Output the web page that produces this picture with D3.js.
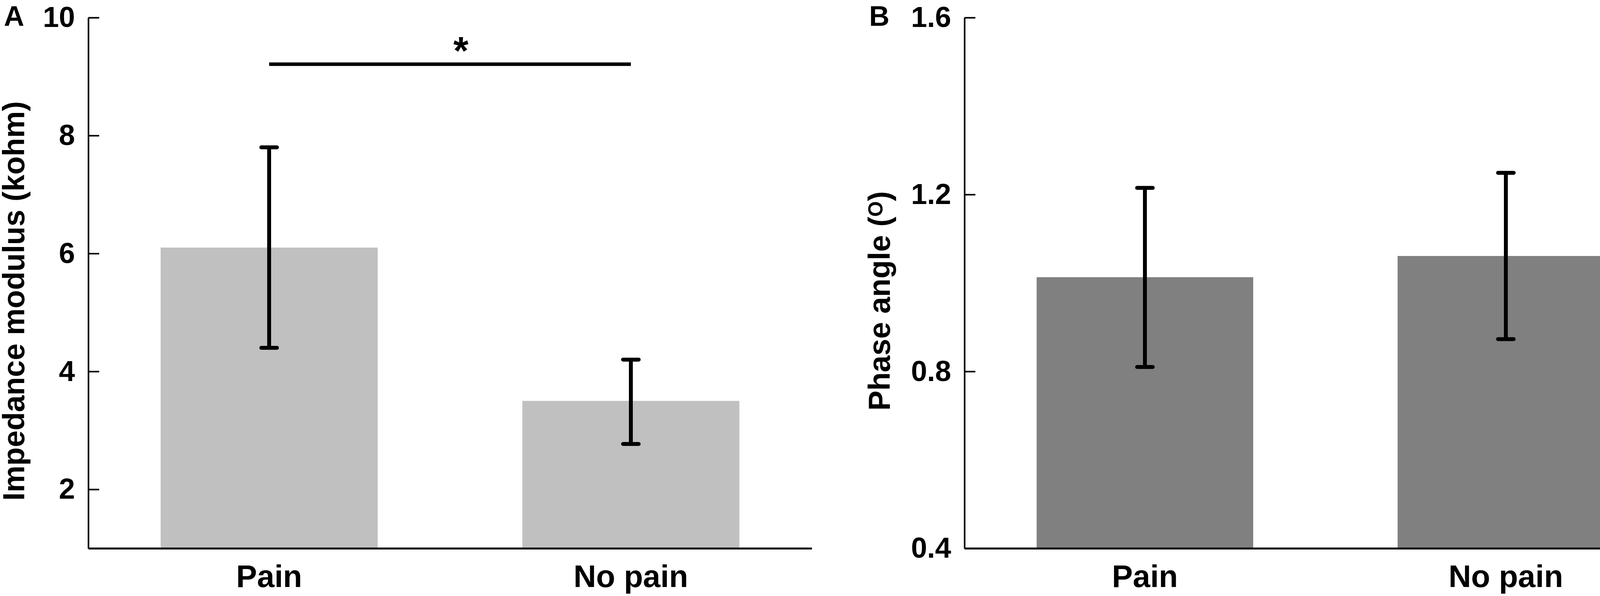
<!DOCTYPE html>
<html>
<head>
<meta charset="utf-8">
<script src="https://cdn.jsdelivr.net/npm/d3@7"></script>
<style>
  body { margin: 0; background: #fff; }
  svg { display: block; font-family: "Liberation Sans", Arial, sans-serif; font-weight: bold; }
</style>
</head>
<body>
<svg width="4328" height="1525"></svg>
<script>
// data
var categories = ["Pain", "No pain"];

var impedanceMean  = [6.1, 3.5];
var impedanceUpper = [7.8, 4.2];
var impedanceLower = [4.4, 2.77];
var impedanceTicks = [2, 4, 6, 8, 10];

var phaseMean  = [1.013, 1.061];
var phaseUpper = [1.215, 1.249];
var phaseLower = [0.81, 0.873];
var phaseTicks = [0.4, 0.8, 1.2, 1.6];

var svg = d3.select("svg");
var plotTop = 45, plotBottom = 1403;

function panel(opt) {
    var g = svg.append("g");

    var x = d3.scaleBand()
        .domain(categories)
        .range([opt.left, opt.right])
        .paddingInner(0.4)
        .paddingOuter(0.2);

    var y = d3.scaleLinear()
        .domain(opt.domain)
        .range([plotBottom, plotTop]);

    // bars
    g.selectAll("rect.bar")
        .data(categories)
        .enter().append("rect")
        .attr("class", "bar")
        .attr("x", function(d) { return x(d); })
        .attr("width", x.bandwidth())
        .attr("y", function(d, i) { return y(opt.mean[i]); })
        .attr("height", function(d, i) { return y(opt.domain[0]) - y(opt.mean[i]); })
        .attr("fill", opt.color);

    // y axis, ticks pointing inward
    var ya = g.append("g")
        .attr("transform", "translate(" + opt.left + ",0)")
        .call(d3.axisLeft(y)
            .tickValues(opt.ticks)
            .tickFormat(opt.format)
            .tickSizeInner(-28)
            .tickSizeOuter(0)
            .tickPadding(34));
    ya.select(".domain").attr("stroke", "#000").attr("stroke-width", 4);
    ya.selectAll(".tick line").attr("stroke", "#000").attr("stroke-width", 4);
    ya.selectAll(".tick text")
        .attr("font-size", 74)
        .attr("font-family", "Liberation Sans, Arial, sans-serif")
        .attr("font-weight", "bold")
        .attr("fill", "#000");

    // x axis
    var xa = g.append("g")
        .attr("transform", "translate(0," + plotBottom + ")")
        .call(d3.axisBottom(x).tickSize(0).tickPadding(42));
    xa.select(".domain").attr("stroke", "#000").attr("stroke-width", 5);
    xa.selectAll(".tick text")
        .attr("font-size", 80)
        .attr("font-family", "Liberation Sans, Arial, sans-serif")
        .attr("font-weight", "bold")
        .attr("fill", "#000");

    // error bars
    var eb = g.selectAll("g.err")
        .data(categories)
        .enter().append("g")
        .attr("class", "err")
        .attr("stroke", "#000")
        .attr("stroke-width", 10);
    eb.append("line")
        .attr("x1", function(d) { return x(d) + x.bandwidth() / 2; })
        .attr("x2", function(d) { return x(d) + x.bandwidth() / 2; })
        .attr("y1", function(d, i) { return y(opt.upper[i]); })
        .attr("y2", function(d, i) { return y(opt.lower[i]); });
    [opt.upper, opt.lower].forEach(function(arr) {
        eb.append("line")
            .attr("stroke-linecap", "round")
            .attr("x1", function(d) { return x(d) + x.bandwidth() / 2 - 20; })
            .attr("x2", function(d) { return x(d) + x.bandwidth() / 2 + 20; })
            .attr("y1", function(d, i) { return y(arr[i]); })
            .attr("y2", function(d, i) { return y(arr[i]); });
    });

    // axis title
    var t = g.append("text")
        .attr("transform", "translate(" + opt.titleX + ",770) rotate(-90)")
        .attr("text-anchor", "middle")
        .attr("font-size", 77);
    opt.title(t);

    // panel letter
    g.append("text")
        .attr("x", opt.letterX)
        .attr("y", 66)
        .attr("font-size", 72)
        .text(opt.letter);

    return { x: x, y: y, g: g };
}

var A = panel({
    left: 226, right: 2078,
    domain: [1, 10], ticks: impedanceTicks, format: d3.format("d"),
    mean: impedanceMean, upper: impedanceUpper, lower: impedanceLower,
    color: "#c0c0c0", letter: "A", letterX: 10, titleX: 62,
    title: function(t) { t.text("Impedance modulus (kohm)"); }
});

var B = panel({
    left: 2469, right: 4317,
    domain: [0.4, 1.6], ticks: phaseTicks, format: d3.format(".1f"),
    mean: phaseMean, upper: phaseUpper, lower: phaseLower,
    color: "#808080", letter: "B", letterX: 2225, titleX: 2278,
    title: function(t) {
        t.append("tspan").text("Phase angle (");
        t.append("tspan").attr("font-size", 51).attr("dy", -19).text("O");
        t.append("tspan").attr("dy", 19).text(")");
    }
});

// significance bracket in panel A
var sigY = A.y(9.21);
A.g.append("line")
    .attr("x1", A.x("Pain") + A.x.bandwidth() / 2)
    .attr("x2", A.x("No pain") + A.x.bandwidth() / 2)
    .attr("y1", sigY).attr("y2", sigY)
    .attr("stroke", "#000")
    .attr("stroke-width", 9);
A.g.append("text")
    .attr("x", (A.x("Pain") + A.x("No pain") + A.x.bandwidth()) / 2 + 28)
    .attr("y", sigY)
    .attr("text-anchor", "middle")
    .attr("font-size", 100)
    .text("*");
</script>
</body>
</html>
